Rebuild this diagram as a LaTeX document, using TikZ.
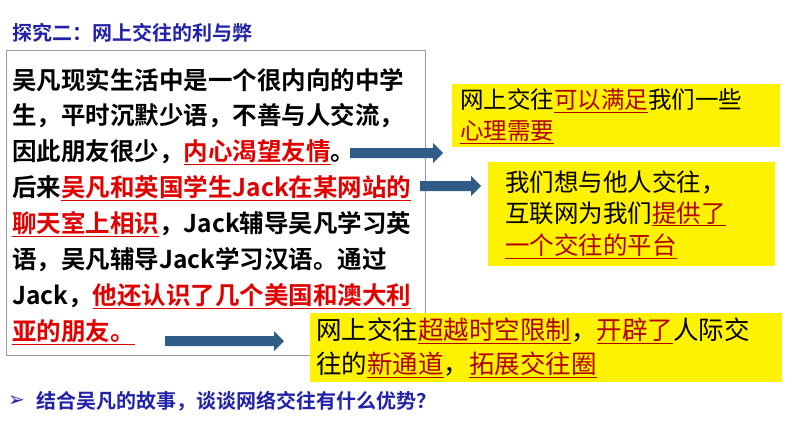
\documentclass[tikz,border=0pt]{standalone}
\usepackage{fontspec}
\newfontfamily\cjkb[BoldFont=* Bold]{Noto Sans CJK SC}
\newfontfamily\cjk{Noto Sans CJK SC}
\newfontfamily\djv{DejaVu Sans}
\definecolor{ttl}{HTML}{2222A8}
\definecolor{arr}{HTML}{2F5D88}
\definecolor{rd}{HTML}{E00000}
\definecolor{drd}{HTML}{B00000}
\newcommand{\R}[1]{\textcolor{rd}{\underline{#1}}}
\newcommand{\D}[1]{\textcolor{drd}{\underline{#1}}}
\newcommand{\blockarrow}[3]{% x1 x2 y
  \fill[arr] (#1,#3-5) -- (#2-10,#3-5) -- (#2-10,#3-10) -- (#2,#3) -- (#2-10,#3+10) -- (#2-10,#3+5) -- (#1,#3+5) -- cycle;}
\begin{document}
\begin{tikzpicture}[x=1pt,y=-1pt,
  ln/.style={anchor=west,inner sep=0pt,font=\cjkb\bfseries\fontsize{24.5}{26}\selectfont},
  yt/.style={anchor=west,inner sep=0pt,font=\cjk\fontsize{24.5}{26}\selectfont}]
\useasboundingbox[fill=white] (0,0) rectangle (794,447);
\node[anchor=west,inner sep=0pt,text=ttl,font=\cjkb\bfseries\fontsize{20}{22}\selectfont] (title) at (12,33) {探究二：网上交往的利与弊};
\draw[gray!80] (6,50) rectangle (425,355);
\node[ln] (l1) at (12,80) {吴凡现实生活中是一个很内向的中学};
\node[ln] (l2) at (12,116) {生，平时沉默少语，不善与人交流，};
\node[ln] (l3) at (12,152) {因此朋友很少，\R{内心渴望友情}。};
\node[ln] (l4) at (12,188) {后来\R{吴凡和英国学生Jack在某网站的}};
\node[ln] (l5) at (12,224) {\R{聊天室上相识}，Jack辅导吴凡学习英};
\node[ln] (l6) at (12,260) {语，吴凡辅导Jack学习汉语。通过};
\node[ln] (l7) at (12,296) {Jack，\R{他还认识了几个美国和澳大利}};
\node[ln] (l8) at (12,332) {\R{亚的朋友。}};
% yellow boxes
\path[fill=yellow] (452,84) rectangle (780,147);
\node[yt,font=\cjk\fontsize{23.5}{25}\selectfont] (a1) at (460,101) {网上交往\D{可以满足}我们一些};
\node[yt,font=\cjk\fontsize{23.5}{25}\selectfont] (a2) at (460,132) {\D{心理需要}};
\path[fill=yellow] (488,162) rectangle (775,266);
\node[yt] (b1) at (505,182) {我们想与他人交往，};
\node[yt] (b2) at (505,214) {互联网为我们\D{提供了}};
\node[yt] (b3) at (505,246) {\D{一个交往的平台}};
\path[fill=yellow] (310,313) rectangle (782,382);
\node[yt,font=\cjk\fontsize{25.5}{27}\selectfont] (c1) at (316,331) {网上交往\D{超越时空限制}，\D{开辟了}人际交};
\node[yt,font=\cjk\fontsize{25.5}{27}\selectfont] (c2) at (316,365) {往的\D{新通道}，\D{拓展交往圈}};
% arrows
\blockarrow{350}{443}{153}
\blockarrow{420}{481}{186}
\blockarrow{165}{284}{341}
% bottom
\node[anchor=west,inner sep=0pt,text=ttl,font=\djv\fontsize{20}{22}\selectfont] (bul) at (8,401) {➢};
\node[anchor=west,inner sep=0pt,text=ttl,font=\cjkb\bfseries\fontsize{20}{22}\selectfont] (q) at (36,401) {结合吴凡的故事，谈谈网络交往有什么优势？};
\end{tikzpicture}
\end{document}
